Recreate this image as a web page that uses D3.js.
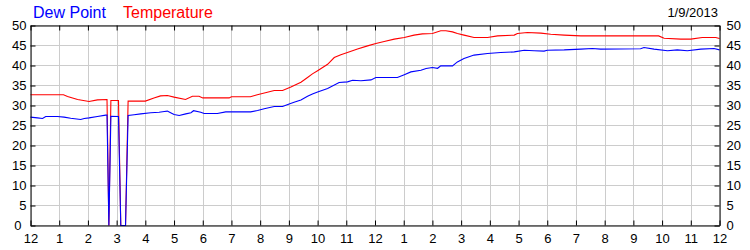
<!DOCTYPE html>
<html>
<head>
<meta charset="utf-8">
<script src="https://cdn.jsdelivr.net/npm/d3@7"></script>
<style>
  html, body { margin: 0; padding: 0; background: #fff; }
  svg { display: block; font-family: "Liberation Sans", Arial, sans-serif; }
</style>
</head>
<body>
<svg id="chart" width="750" height="250"></svg>
<script>
// ---- data ----
const xTickLabels = ["12","1","2","3","4","5","6","7","8","9","10","11","12","1","2","3","4","5","6","7","8","9","10","11","12"];
const yTickValues = [0,5,10,15,20,25,30,35,40,45,50];
const dateLabel = "1/9/2013";
const seriesNames = ["Dew Point", "Temperature"];

// hours since midnight
const tempTimes = [0,0.5,1.15,1.29,1.64,2.04,2.33,2.665,2.73,2.80,3.065,3.145,3.23,3.31,3.40,4.0,4.3,4.53,4.77,5.0,5.4,5.64,5.87,6.0,6.92,7.0,7.66,7.9,8.25,8.49,8.78,9.07,9.42,9.65,9.82,10.0,10.35,10.58,10.81,11.04,11.39,11.74,12.03,12.32,12.67,13.02,13.36,13.65,14.0,14.29,14.47,14.7,14.87,15.1,15.45,15.92,16.27,16.85,16.96,17.31,17.78,18.12,18.59,19.17,21.88,22.07,22.65,23.0,23.4,23.87,24];
const tempValues = [32.7,32.7,32.7,32.25,31.5,31.0,31.4,31.5,0,31.25,31.25,0,0,0,31.1,31.1,31.9,32.4,32.5,32.1,31.5,32.3,32.3,31.9,31.9,32.2,32.2,32.7,33.3,33.75,33.75,34.6,35.8,37.0,37.9,38.7,40.3,42.0,42.7,43.25,44.1,44.9,45.5,46.0,46.6,47.0,47.6,47.9,48.0,48.7,48.7,48.4,48.0,47.6,47.0,47.0,47.4,47.6,48.0,48.25,48.1,47.8,47.6,47.4,47.4,46.8,46.6,46.6,47.0,47.0,46.75];

const dewTimes = [0,0.24,0.42,0.53,0.94,1.17,1.4,1.75,1.87,2.04,2.33,2.62,2.665,2.73,2.80,3.065,3.145,3.23,3.31,3.40,3.61,3.84,4.19,4.48,4.66,4.77,4.83,5.0,5.18,5.41,5.59,5.68,5.93,6.05,6.51,6.8,7.67,7.91,8.14,8.49,8.78,9.01,9.18,9.42,9.65,9.82,10.0,10.35,10.75,11.04,11.22,11.51,11.86,12.03,12.78,13.02,13.25,13.6,13.78,14.0,14.18,14.29,14.7,14.87,15.1,15.45,15.92,16.38,16.85,17.2,17.54,17.89,18.0,18.59,19.17,19.57,19.86,21.25,21.37,21.72,22.19,22.53,22.88,23.35,23.81,24];
const dewValues = [27.1,26.9,26.75,27.25,27.25,27.1,26.8,26.5,26.75,26.9,27.25,27.6,27.6,0,27.3,27.25,0,0,0,27.5,27.7,27.9,28.2,28.3,28.5,28.6,28.4,27.75,27.5,27.9,28.2,28.7,28.3,28.0,28.0,28.4,28.4,28.75,29.2,29.75,29.75,30.4,30.8,31.4,32.3,32.9,33.4,34.25,35.75,35.9,36.3,36.2,36.4,37.0,37.0,37.7,38.4,38.8,39.25,39.5,39.3,39.9,39.9,40.9,41.75,42.6,43.0,43.25,43.4,43.8,43.7,43.6,43.8,43.9,44.1,44.25,44.1,44.2,44.5,44.1,43.7,43.9,43.7,44.1,44.25,43.9];

// ---- layout ----
const svg = d3.select("#chart");
const pLeft = 30.5, pRight = 719.5, pTop = 25.5, pBottom = 225.5;
const x = d3.scaleLinear().domain([0, 24]).range([pLeft, pRight]);
const y = d3.scaleLinear().domain([0, 50]).range([pBottom, pTop]);
const xTicks = d3.range(xTickLabels.length);

// grid
const grid = svg.append("g").attr("stroke", "#cccccc").attr("stroke-width", 1);
grid.selectAll("line.v").data(xTicks).join("line")
  .attr("x1", d => Math.round(x(d)) + 0.5).attr("x2", d => Math.round(x(d)) + 0.5)
  .attr("y1", pTop).attr("y2", pBottom);
grid.selectAll("line.h").data(yTickValues).join("line")
  .attr("x1", pLeft).attr("x2", pRight)
  .attr("y1", d => y(d)).attr("y2", d => y(d));

// lines
const line = d3.line().x(d => x(d[0])).y(d => y(d[1]));
const tempData = tempTimes.map((t, i) => [t, tempValues[i]]);
const dewData = dewTimes.map((t, i) => [t, dewValues[i]]);
svg.append("path").datum(tempData).attr("d", line)
  .attr("fill", "none").attr("stroke", "#ff0000").attr("stroke-width", 1.1);
svg.append("path").datum(dewData).attr("d", line)
  .attr("fill", "none").attr("stroke", "#0000ff").attr("stroke-width", 1.1);

// axes
const fmtX = i => xTickLabels[i];
function styleAxis(g) {
  g.selectAll("path.domain").attr("stroke", "#000");
  g.selectAll(".tick line").attr("stroke", "#000");
  g.selectAll(".tick text").attr("fill", "#000").style("font-size", "13px")
    .style("font-family", "'Liberation Sans', Arial, sans-serif");
}
svg.append("g").attr("transform", `translate(0,${pBottom})`)
  .call(d3.axisBottom(x).tickValues(xTicks).tickFormat(fmtX).tickSizeInner(-5).tickSizeOuter(0).tickPadding(8))
  .call(styleAxis);
svg.append("g").attr("transform", `translate(0,${pTop})`)
  .call(d3.axisTop(x).tickValues(xTicks).tickFormat("").tickSizeInner(-5).tickSizeOuter(0))
  .call(styleAxis);
const gl = svg.append("g").attr("transform", `translate(${pLeft},0)`)
  .call(d3.axisLeft(y).tickValues(yTickValues).tickFormat(d3.format("d")).tickSizeInner(-5).tickSizeOuter(0).tickPadding(4))
  .call(styleAxis);
gl.selectAll(".tick text").filter(d => d === 0).attr("x", -9);
svg.append("g").attr("transform", `translate(${pRight},0)`)
  .call(d3.axisRight(y).tickValues(yTickValues).tickFormat(d3.format("d")).tickSizeInner(-5).tickSizeOuter(0).tickPadding(7))
  .call(styleAxis);

// legend + date
svg.append("text").attr("x", 33).attr("y", 18).attr("fill", "#0000ff")
  .style("font-size", "16px").text(seriesNames[0]);
svg.append("text").attr("x", 123).attr("y", 18).attr("fill", "#ff0000")
  .style("font-size", "16px").text(seriesNames[1]);
svg.append("text").attr("x", 718).attr("y", 17).attr("fill", "#000")
  .attr("text-anchor", "end").style("font-size", "13px").text(dateLabel);
</script>
</body>
</html>
